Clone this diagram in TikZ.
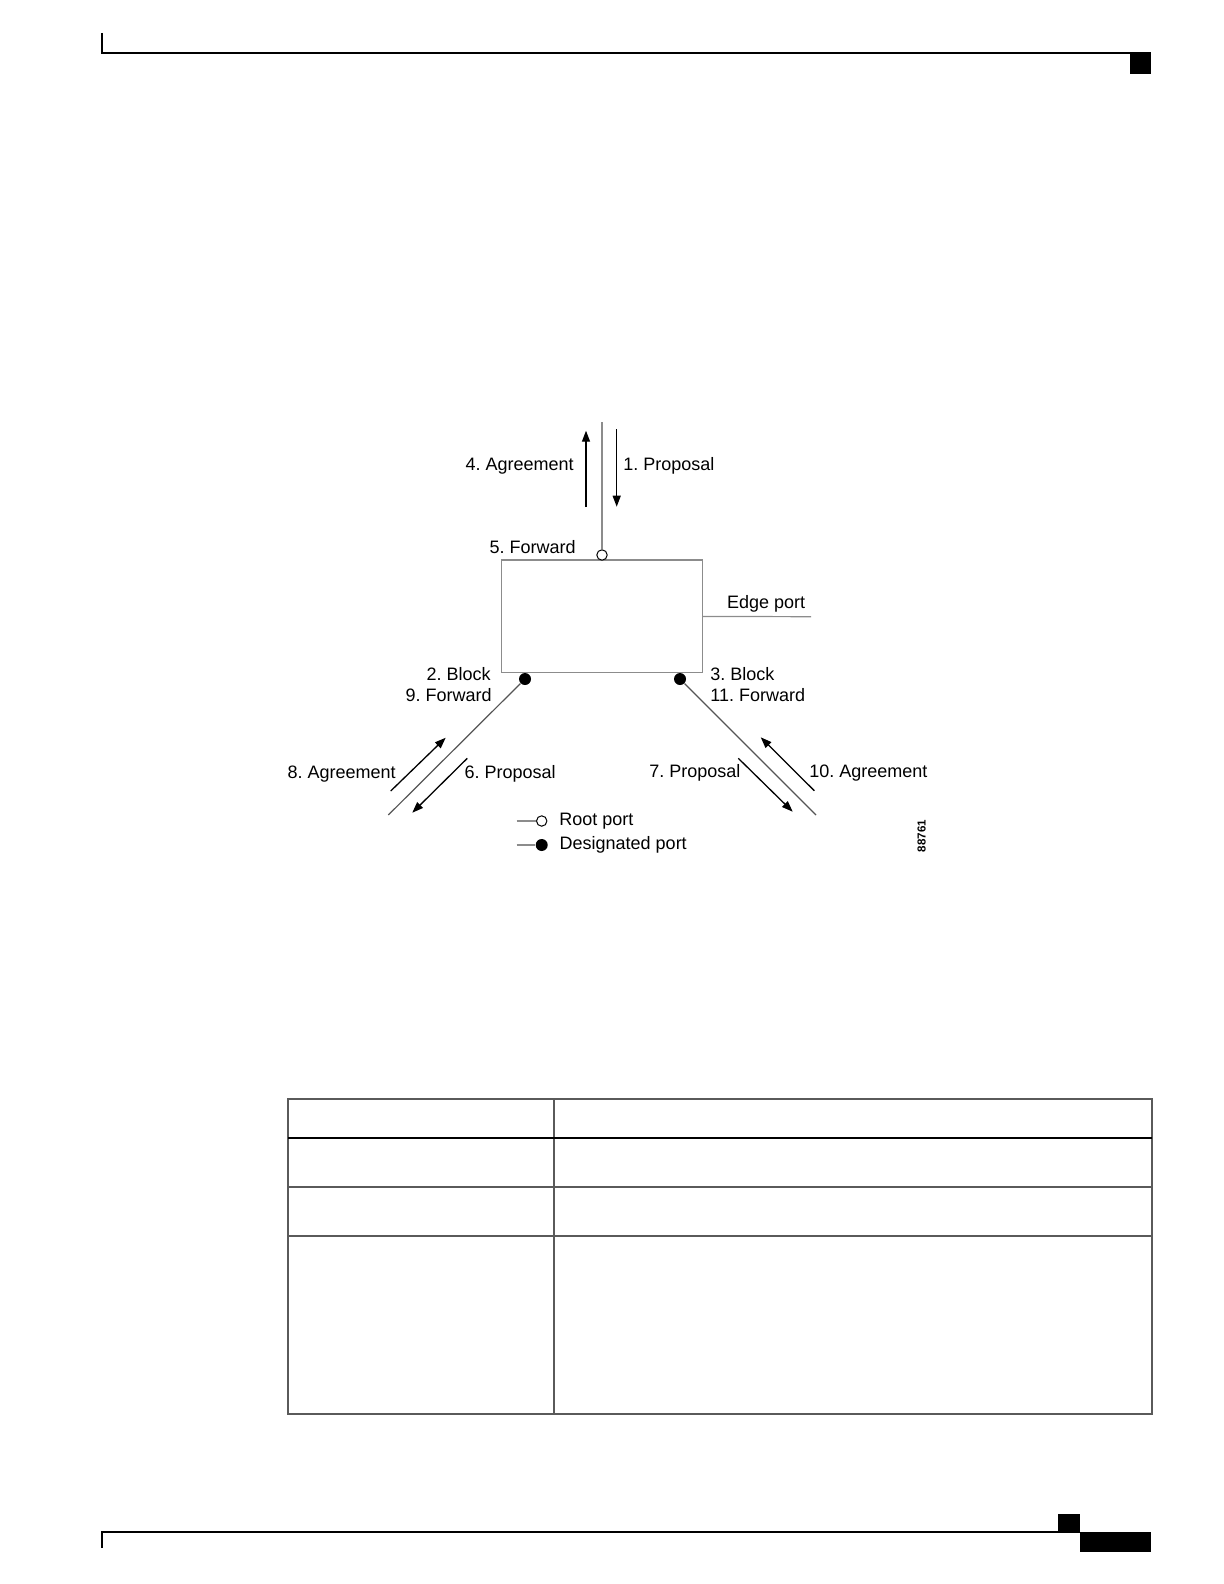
\documentclass[tikz,border=0pt]{standalone}
\usepackage{fontspec}
\setmainfont{Liberation Sans}
\frenchspacing
\usetikzlibrary{
    positioning,                      % right=of, below=of, etc.
    arrows.meta                       % puntas Triangle
}
\definecolor{linea_gris}{RGB}{140,140,140}
\definecolor{linea_oscura}{RGB}{85,85,85}
\definecolor{tabla_gris}{RGB}{90,90,90}
\tikzset{
    switchbox/.style={
        rectangle, draw=linea_gris, line width=0.6pt,
        minimum width=100.3pt, minimum height=56.4pt,
        inner sep=0pt
    },
    rootport/.style={
        circle, draw=black, fill=white, line width=0.5pt,
        minimum size=5.2pt, inner sep=0pt
    },
    desigport/.style={
        circle, fill=black, minimum size=6pt, inner sep=0pt
    },
    link/.style={
        draw=linea_oscura, line width=0.6pt
    },
    msg/.style={
        -{Triangle[length=5.5pt,width=4pt]}, line width=0.65pt
    },
    etiq/.style={
        font=\fontsize{9}{10}\selectfont, inner sep=0pt
    },
    tabla/.style={
        draw=tabla_gris, line width=0.6pt
    }
}

\begin{document}
\begin{tikzpicture}[x=0.5pt, y=-0.5pt]
    \useasboundingbox (0,0) rectangle (1224,1584);

    % cabecera y pie de pagina
    \draw[line width=1pt] (102,33) -- (102,53) -- (1151,53);
    \fill (1130,53) rectangle (1151,74);
    \draw[line width=1pt] (102,1548) -- (102,1532) -- (1080,1532);
    \fill (1058,1514) rectangle (1080,1532);
    \fill (1080,1532) rectangle (1151,1552);

    % switch y puertos
    \node[switchbox] (sw) at (602,616.4) {};
    \node[rootport]  (root) at ([yshift=2.2pt]sw.north) {};
    \node[desigport] (dpl)  at ([xshift=-38.5pt,yshift=-2.8pt]sw.south) {};
    \node[desigport] (dpr)  at ([xshift=39pt,yshift=-2.8pt]sw.south) {};

    % enlaces
    \coordinate (up)    at (602,422);
    \coordinate (edge)  at (811,616.7);
    \coordinate (downl) at (388.3,815);
    \coordinate (downr) at (816,815);
    \draw[link, draw=linea_gris] (root) -- (up);
    \draw[link, draw=linea_gris] (sw.east) -- (edge);
    \draw[link] (dpl) -- (downl);
    \draw[link] (dpr) -- (downr);

    % mensajes
    \coordinate (a4s)  at (586,507);     \coordinate (a4e)  at (586,430.7);
    \coordinate (a1s)  at (616.7,429);   \coordinate (a1e)  at (616.7,506.7);
    \coordinate (a8s)  at (390.7,791);   \coordinate (a8e)  at (445.7,737.7);
    \coordinate (a6s)  at (467.3,758.3); \coordinate (a6e)  at (412.3,812.7);
    \coordinate (a7s)  at (738.3,758.3); \coordinate (a7e)  at (792.7,811.7);
    \coordinate (a10s) at (814.3,790.7); \coordinate (a10e) at (760.7,737.3);
    \draw[msg] (a4s)  -- (a4e);
    \draw[msg] (a1s)  -- (a1e);
    \draw[msg] (a8s)  -- (a8e);
    \draw[msg] (a6s)  -- (a6e);
    \draw[msg] (a7s)  -- (a7e);
    \draw[msg] (a10s) -- (a10e);

    % etiquetas
    \node[etiq, anchor=mid east] (t4)  at (574,465.5)   {4. Agreement};
    \node[etiq, anchor=mid west] (t1)  at (623,465.5)   {1. Proposal};
    \node[etiq, anchor=mid east] (t5)  at (576,548)     {5. Forward};
    \node[etiq, anchor=mid west] (te)  at (726.7,603.5) {Edge port};
    \node[etiq, anchor=mid east] (t2)  at (491,675.5)   {2. Block};
    \node[etiq, anchor=mid east] (t9)  at (492,696.5)   {9. Forward};
    \node[etiq, anchor=mid west] (t3)  at (710,675.5)   {3. Block};
    \node[etiq, anchor=mid west] (t11) at (710,696.5)   {11. Forward};
    \node[etiq, anchor=mid west] (t8)  at (287.3,773)   {8. Agreement};
    \node[etiq, anchor=mid west] (t6)  at (464.3,773)   {6. Proposal};
    \node[etiq, anchor=mid west] (t7)  at (649,772.5)   {7. Proposal};
    \node[etiq, anchor=mid west] (t10) at (809,772.5)   {10. Agreement};
    \node[font=\fontsize{5.8}{6}\selectfont\bfseries, inner sep=0pt, rotate=90] (num) at (921.7,836) {88761};

    % leyenda
    \node[rootport]  (lroot) at (541.7,821) {};
    \node[desigport] (ldes)  at (541.7,845) {};
    \coordinate (lroots) at (516.7,821);
    \coordinate (ldess)  at (516.7,845);
    \draw[link, draw=linea_gris] (lroots) -- (lroot);
    \draw[link, draw=linea_gris] (ldess) -- (ldes);
    \node[etiq, right=5.8pt of lroot] (troot) {Root port};
    \node[etiq, right=5.6pt of ldes]  (tdes)  {Designated port};

    % tabla vacia
    \draw[tabla] (288,1099) rectangle (1152,1414);
    \draw[tabla] (554,1099) -- (554,1414);
    \draw[line width=1pt] (288,1138) -- (1152,1138);
    \foreach \y in {1187,1236}
        \draw[tabla] (288,\y) -- (1152,\y);
\end{tikzpicture}
\end{document}
